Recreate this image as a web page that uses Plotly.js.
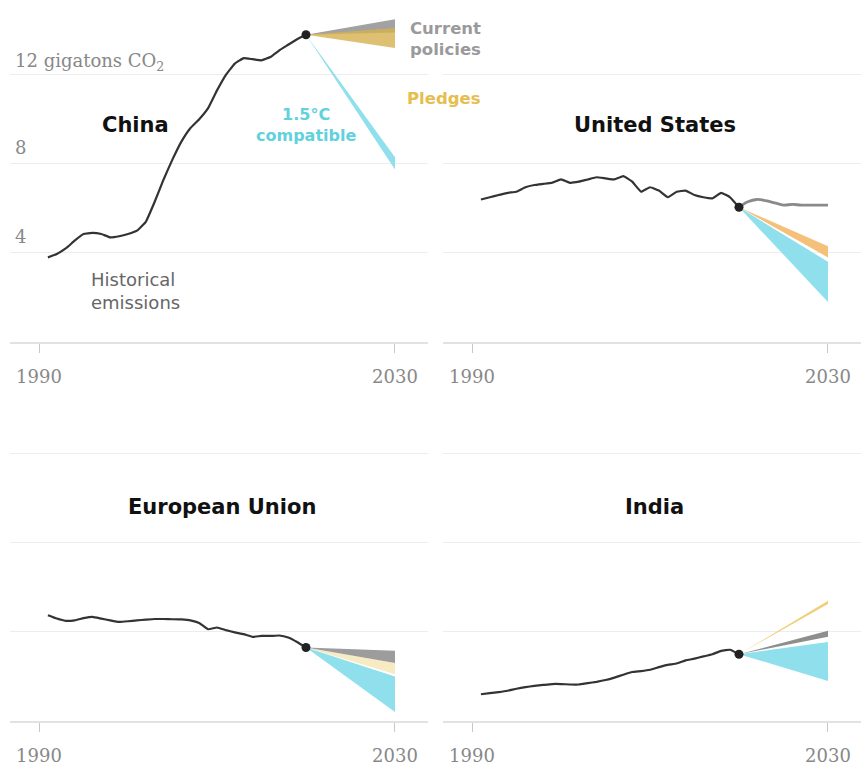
<!DOCTYPE html>
<html><head><meta charset="utf-8">
<script src="https://cdn.plot.ly/plotly-3.0.1.min.js"></script>
<style>html,body{margin:0;padding:0;background:#fff}#chart{width:863px;height:766px}</style>
</head><body><div id="chart"></div>
<script>
// ---- data ----
const histYears = [1991,1992,1993,1994,1995,1996,1997,1998,1999,2000,2001,2002,2003,2004,2005,2006,2007,2008,2009,2010,2011,2012,2013,2014,2015,2016,2017,2018,2019,2020];
const chinaHist = [3.8,3.95,4.2,4.55,4.85,4.9,4.85,4.7,4.75,4.85,5.0,5.4,6.3,7.3,8.2,9.0,9.6,10.0,10.5,11.3,12.0,12.5,12.75,12.7,12.65,12.8,13.1,13.35,13.6,13.8];
const usHist = [6.4,6.5,6.6,6.7,6.75,6.95,7.05,7.1,7.15,7.3,7.15,7.2,7.3,7.4,7.35,7.3,7.45,7.2,6.75,6.95,6.8,6.5,6.75,6.8,6.6,6.5,6.45,6.7,6.5,6.05];
const euHist = [4.75,4.6,4.5,4.52,4.62,4.68,4.6,4.52,4.45,4.48,4.52,4.55,4.58,4.58,4.57,4.56,4.52,4.4,4.12,4.2,4.08,3.98,3.9,3.78,3.82,3.82,3.84,3.75,3.55,3.3];
const indiaHist = [1.2,1.25,1.3,1.36,1.45,1.52,1.58,1.62,1.66,1.66,1.64,1.64,1.7,1.76,1.84,1.95,2.08,2.2,2.24,2.3,2.42,2.52,2.58,2.72,2.8,2.9,3.0,3.15,3.2,3.0];

const projStart = 2020, projEnd = 2030;
// 2030 ranges [low, high]
const chinaCurrent = [13.9, 14.5], chinaPledges = [13.2, 14.1], china15 = [7.75, 8.3];
const usPledges = [3.8, 4.3], us15 = [1.8, 3.6];
const usCurrentYears = [2020,2021,2022,2023,2024,2025,2026,2027,2028,2029,2030];
const usCurrentLine = [6.05,6.3,6.4,6.35,6.25,6.15,6.18,6.15,6.15,6.15,6.15];
const euCurrent = [2.6, 3.15], euPledges = [2.1, 2.6], eu15 = [0.4, 2.0];
const indiaCurrent = [3.78, 4.05], indiaPledges = [5.25, 5.4], india15 = [1.8, 3.55];

const regionNames = ["China","United States","European Union","India"];
const xTickVals = [1990, 2030];
const xTickText = ["1990","2030"];
const yGridVals = [4, 8, 12];
const yLabels = ["4","8","12 gigatons CO<sub>2</sub>"];

// ---- styles ----
const GRAY = '#a2a2a2', CYAN = '#8fe0ec';
const traces = [];
function band(xa, ya, v0, rng, color, op){
  traces.push({x:[projStart, projEnd, projEnd, projStart], y:[v0, rng[1], rng[0], v0],
    xaxis:xa, yaxis:ya, type:'scatter', mode:'lines', fill:'toself', fillcolor:color,
    line:{width:0, color:color}, opacity:op, hoverinfo:'skip', showlegend:false});
}
function hist(xa, ya, vals){
  traces.push({x:histYears, y:vals, xaxis:xa, yaxis:ya, type:'scatter', mode:'lines',
    line:{color:'#333', width:2.2, shape:'spline', smoothing:0.3}, showlegend:false, hoverinfo:'skip'});
  traces.push({x:[histYears[histYears.length-1]], y:[vals[vals.length-1]], xaxis:xa, yaxis:ya,
    type:'scatter', mode:'markers', marker:{color:'#222', size:9}, showlegend:false, hoverinfo:'skip'});
}
const last = a => a[a.length-1];

// China
band('x','y', last(chinaHist), chinaCurrent, GRAY, 1);
band('x','y', last(chinaHist), chinaPledges, '#d6b050', 0.8);
band('x','y', last(chinaHist), china15, CYAN, 1);
hist('x','y', chinaHist);
// US
band('x2','y2', last(usHist), usPledges, '#f4c07a', 1);
band('x2','y2', last(usHist), us15, CYAN, 1);
traces.push({x:usCurrentYears, y:usCurrentLine, xaxis:'x2', yaxis:'y2', type:'scatter', mode:'lines',
  line:{color:'#8a8a8a', width:2.8, shape:'spline'}, showlegend:false, hoverinfo:'skip'});
hist('x2','y2', usHist);
// EU
band('x3','y3', last(euHist), euPledges, '#f7ebc4', 1);
band('x3','y3', last(euHist), euCurrent, '#9c9c9c', 1);
band('x3','y3', last(euHist), eu15, CYAN, 1);
hist('x3','y3', euHist);
// India
band('x4','y4', last(indiaHist), india15, CYAN, 1);
band('x4','y4', last(indiaHist), indiaCurrent, '#8e8e8e', 1);
band('x4','y4', last(indiaHist), indiaPledges, '#f0cf7a', 1);
hist('x4','y4', indiaHist);

const W = 863, H = 766;
const xr = [1986.74, 2033.71];
function xax(d){ return {domain:d, range:xr, showgrid:false, zeroline:false, showline:true,
  linecolor:'#e2e2e2', linewidth:2, ticks:'outside', ticklen:9, tickwidth:1, tickcolor:'#c8c8c8',
  tickvals:xTickVals, ticktext:xTickText, ticklabelstandoff:8,
  tickfont:{family:'DejaVu Serif', size:18, color:'#888'}, fixedrange:true}; }
function yax(d){ return {domain:d, range:[0,15], showgrid:true, gridcolor:'#ededed', gridwidth:1,
  tickvals:yGridVals, showticklabels:false, zeroline:false, showline:false, ticks:'', fixedrange:true}; }
const dL = [10/W, 428/W], dR = [443/W, 861/W];
const dT = [(H-342)/H, (H-8)/H], dB = [(H-721)/H, (H-387)/H];

const titleFont = {family:'DejaVu Sans', size:21, color:'#111', weight:'bold'};
const ann = [];
// y labels (China panel)
const yLabY = [4.72, 8.72, 12.58];
yLabels.forEach((t,i)=>ann.push({xref:'x', yref:'y', x:1987.08, y:yLabY[i], text:t, showarrow:false,
  xanchor:'left', yanchor:'middle', font:{family:'DejaVu Serif', size:18, color:'#888'}}));
// titles
ann.push({xref:'x', yref:'y', x:2000.8, y:9.75, text:'<b>'+regionNames[0]+'</b>', showarrow:false, font:titleFont});
ann.push({xref:'x2', yref:'y2', x:2010.56, y:9.75, text:'<b>'+regionNames[1]+'</b>', showarrow:false, font:titleFont});
ann.push({xref:'x3', yref:'y3', x:2010.56, y:9.62, text:'<b>'+regionNames[2]+'</b>', showarrow:false, font:titleFont});
ann.push({xref:'x4', yref:'y4', x:2010.56, y:9.62, text:'<b>'+regionNames[3]+'</b>', showarrow:false, font:titleFont});
// scenario labels
ann.push({xref:'x', yref:'y', x:2020.0, y:9.75, text:'<b>1.5°C<br>compatible</b>', showarrow:false,
  align:'center', font:{family:'DejaVu Sans', size:16, color:'#62d1de'}});
ann.push({xref:'x', yref:'y', x:2031.46, y:13.6, text:'<b>Current<br>policies</b>', showarrow:false,
  xanchor:'left', align:'left', font:{family:'DejaVu Sans', size:16.5, color:'#9a9a9a'}});
ann.push({xref:'x', yref:'y', x:2031.12, y:10.92, text:'<b>Pledges</b>', showarrow:false,
  xanchor:'left', align:'left', font:{family:'DejaVu Sans', size:16.5, color:'#e6bd4f'}});
ann.push({xref:'x', yref:'y', x:1995.6, y:2.29, text:'Historical<br>emissions', showarrow:false,
  xanchor:'left', align:'left', font:{family:'DejaVu Sans', size:18, color:'#666'}});

const layout = {width:W, height:H, margin:{l:0,r:0,t:0,b:0}, paper_bgcolor:'#fff', plot_bgcolor:'#fff',
  showlegend:false,
  xaxis:xax(dL), yaxis:yax(dT),
  xaxis2:Object.assign(xax(dR),{anchor:'y2'}), yaxis2:Object.assign(yax(dT),{anchor:'x2'}),
  xaxis3:Object.assign(xax(dL),{anchor:'y3'}), yaxis3:Object.assign(yax(dB),{anchor:'x3'}),
  xaxis4:Object.assign(xax(dR),{anchor:'y4'}), yaxis4:Object.assign(yax(dB),{anchor:'x4'}),
  annotations:ann};
layout.xaxis.anchor='y'; layout.yaxis.anchor='x';
Plotly.newPlot('chart', traces, layout, {displayModeBar:false, staticPlot:true});
</script></body></html>
